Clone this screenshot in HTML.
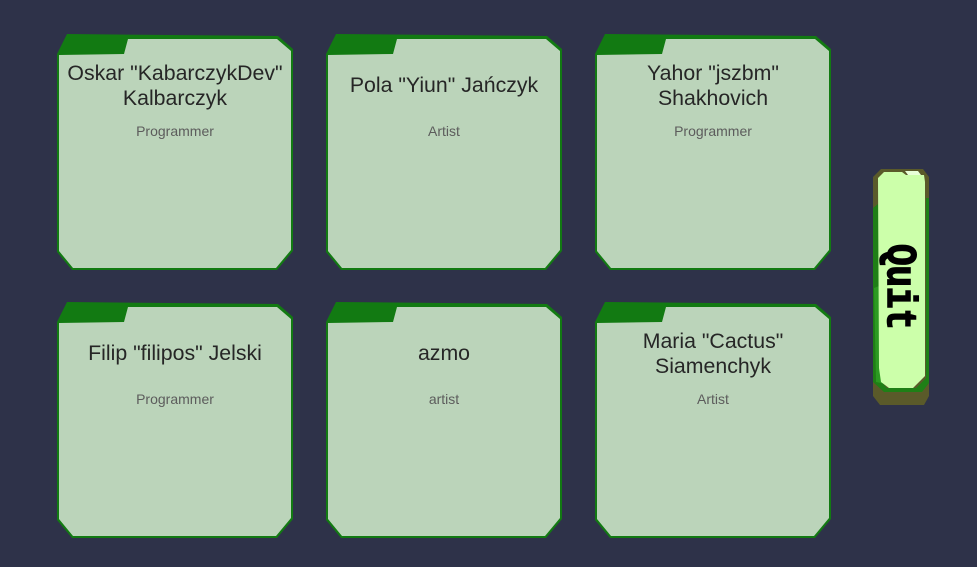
<!DOCTYPE html>
<html>
<head>
<meta charset="utf-8">
<style>
  html, body { margin:0; padding:0; }
  body { width:977px; height:567px; background:#2e3249; position:relative; overflow:hidden;
         font-family:"Liberation Sans", Arial, sans-serif; }
  .card { position:absolute; width:236px; height:236px; }
  .card svg { position:absolute; left:0; top:0; }
  .name { position:absolute; left:-10px; width:256px; top:26px; height:51px; display:flex; align-items:center; justify-content:center;
          text-align:center; font-size:21.3px; line-height:25px; color:#262626; }
  .role { position:absolute; left:0; width:236px; top:88px; height:18px; text-align:center; font-size:14px; line-height:18px; color:#5c5c5c; }
  .quit { position:absolute; left:872px; top:168px; width:58px; height:238px; }
</style>
</head>
<body>

<!-- Row 1 -->
<div class="card" style="left:57px;top:34px;">
  <svg width="236" height="236" viewBox="0 0 236 236">
    <polygon points="0,20 10,0 221,2 236,15 236,217 220,236 15,236 0,218" fill="#127a12"/>
    <polygon points="2,21 67,20 71,5 220,5 234,17 234,216 219,234 16,234 2,217" fill="#bbd4ba"/>
  </svg>
  <div class="name">Oskar "KabarczykDev"<br>Kalbarczyk</div>
  <div class="role">Programmer</div>
</div>

<div class="card" style="left:326px;top:34px;">
  <svg width="236" height="236" viewBox="0 0 236 236">
    <polygon points="0,20 10,0 221,2 236,15 236,217 220,236 15,236 0,218" fill="#127a12"/>
    <polygon points="2,21 67,20 71,5 220,5 234,17 234,216 219,234 16,234 2,217" fill="#bbd4ba"/>
  </svg>
  <div class="name">Pola "Yiun" Jańczyk</div>
  <div class="role">Artist</div>
</div>

<div class="card" style="left:595px;top:34px;">
  <svg width="236" height="236" viewBox="0 0 236 236">
    <polygon points="0,20 10,0 221,2 236,15 236,217 220,236 15,236 0,218" fill="#127a12"/>
    <polygon points="2,21 67,20 71,5 220,5 234,17 234,216 219,234 16,234 2,217" fill="#bbd4ba"/>
  </svg>
  <div class="name">Yahor "jszbm"<br>Shakhovich</div>
  <div class="role">Programmer</div>
</div>

<!-- Row 2 -->
<div class="card" style="left:57px;top:302px;">
  <svg width="236" height="236" viewBox="0 0 236 236">
    <polygon points="0,20 10,0 221,2 236,15 236,217 220,236 15,236 0,218" fill="#127a12"/>
    <polygon points="2,21 67,20 71,5 220,5 234,17 234,216 219,234 16,234 2,217" fill="#bbd4ba"/>
  </svg>
  <div class="name">Filip "filipos" Jelski</div>
  <div class="role">Programmer</div>
</div>

<div class="card" style="left:326px;top:302px;">
  <svg width="236" height="236" viewBox="0 0 236 236">
    <polygon points="0,20 10,0 221,2 236,15 236,217 220,236 15,236 0,218" fill="#127a12"/>
    <polygon points="2,21 67,20 71,5 220,5 234,17 234,216 219,234 16,234 2,217" fill="#bbd4ba"/>
  </svg>
  <div class="name">azmo</div>
  <div class="role">artist</div>
</div>

<div class="card" style="left:595px;top:302px;">
  <svg width="236" height="236" viewBox="0 0 236 236">
    <polygon points="0,20 10,0 221,2 236,15 236,217 220,236 15,236 0,218" fill="#127a12"/>
    <polygon points="2,21 67,20 71,5 220,5 234,17 234,216 219,234 16,234 2,217" fill="#bbd4ba"/>
  </svg>
  <div class="name">Maria "Cactus"<br>Siamenchyk</div>
  <div class="role">Artist</div>
</div>

<!-- Quit button -->
<svg class="quit" width="58" height="238" viewBox="0 0 58 238">
  <polygon points="1,9 9,1 51,1 57,9 57,228 52,237 8,237 1,228" fill="#5a5a2a"/>
  <polygon points="1,40 6,36 8,60 8,212 15,220 44,220 54,210 54,30 57,30 57,215 50,224 12,224 1,214" fill="#1f7f16"/>
  <polygon points="2,120 7,118 9,210 14,216 4,214" fill="#2c9a22"/>
  <polygon points="6,10 12,4 30,4 34,7 52,7 53,14 53,208 41,220 17,220 9,214 7,200" fill="#ccffaa"/>
  <polygon points="33,3 46,3 49,7 36,7" fill="#e8ffd8"/>
  <text transform="translate(29,119) rotate(90)" x="0" y="13" text-anchor="middle"
        font-family="'Liberation Mono', monospace" font-weight="bold" font-size="42"
        textLength="86" lengthAdjust="spacingAndGlyphs" fill="#000" stroke="#000" stroke-width="1.6">Quit</text>
</svg>

</body>
</html>
